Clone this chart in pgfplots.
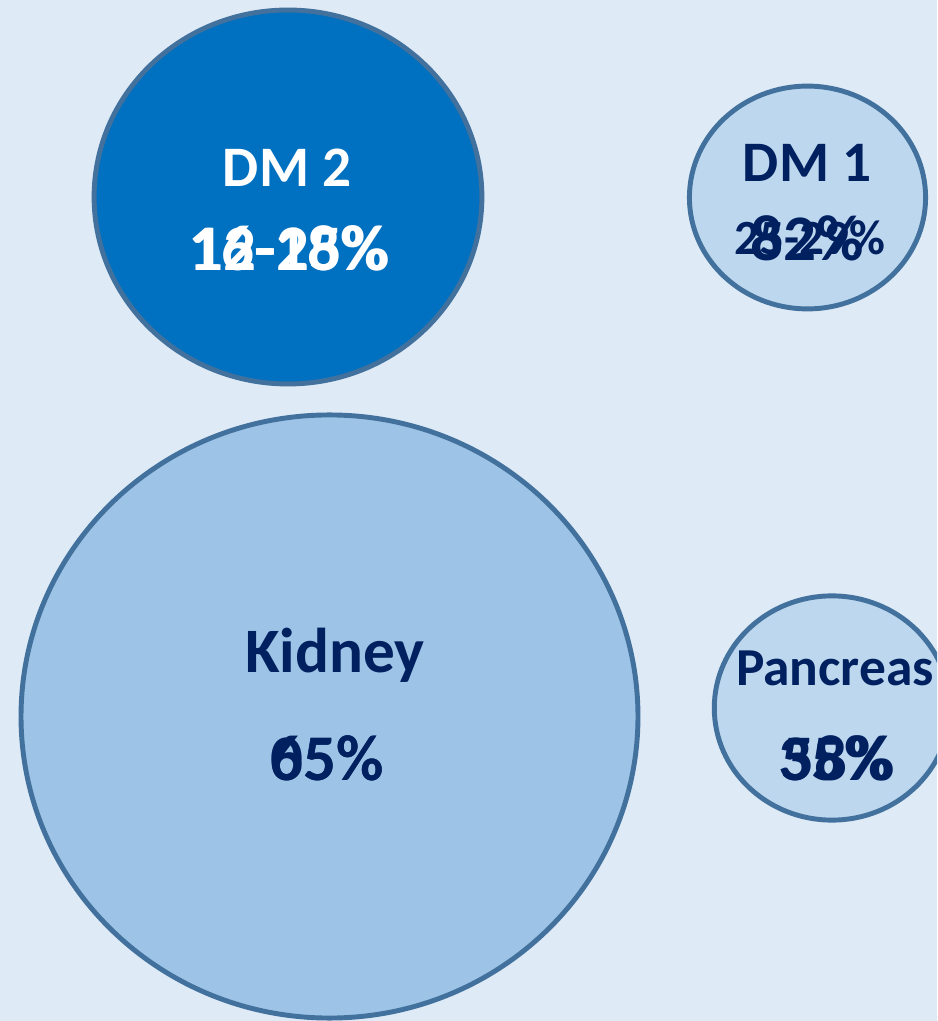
\documentclass[border=0pt]{standalone}
\usepackage{pgfplots}
\pgfplotsset{compat=1.18}
\usepackage{fontspec}
\setmainfont{Carlito}
\definecolor{bgc}{HTML}{DEEAF6}
\definecolor{dmtwo}{HTML}{0070C0}
\definecolor{lightb}{HTML}{BDD7EE}
\definecolor{midb}{HTML}{9DC3E6}
\definecolor{edgec}{HTML}{41719C}
\definecolor{navy}{HTML}{002060}
\begin{document}
\begin{tikzpicture}
\begin{axis}[
  scale only axis, width=9.37cm, height=10.21cm,
  xmin=0, xmax=937, ymin=0, ymax=1021,
  axis line style={draw=none}, ticks=none,
  axis background/.style={fill=bgc},
  clip=true, clip marker paths=true,
]
% DM 2
\addplot[only marks, mark=*, mark size=53.2pt,
  mark options={fill=dmtwo, draw=edgec, line width=1.4pt, xscale=1.037}]
  coordinates {(288,824)};
% DM 1
\addplot[only marks, mark=*, mark size=31.7pt,
  mark options={fill=lightb, draw=edgec, line width=1.4pt, xscale=1.06}]
  coordinates {(807.5,823.5)};
% Kidney
\addplot[only marks, mark=*, mark size=85.8pt,
  mark options={fill=midb, draw=edgec, line width=1.4pt, xscale=1.023}]
  coordinates {(329.5,304.5)};
% Pancreas
\addplot[only marks, mark=*, mark size=31.9pt,
  mark options={fill=lightb, draw=edgec, line width=1.4pt, xscale=1.05}]
  coordinates {(832,313)};

\tikzset{lab/.style={font=\bfseries\fontsize{16.3}{18}\selectfont, inner sep=0pt},
         pct/.style={font=\bfseries\fontsize{18.5}{20}\selectfont, inner sep=0pt},
         pcts/.style={font=\bfseries\fontsize{14}{16}\selectfont, inner sep=0pt}}
% DM 2 text
\node[lab, white] at (axis cs:287,853) {DM 2};
\node[pct, white] at (axis cs:288,773) {16-18\%};
\node[pct, white] at (axis cs:290,773) {12-25\%};
% DM 1 text
\node[lab, navy] at (axis cs:807,858) {DM 1};
\node[pcts, navy] at (axis cs:810,783) {25-29\%};
\node[pct, navy] at (axis cs:807,783) {82\%};
% Kidney text
\node[lab, navy, font=\bfseries\fontsize{18}{20}\selectfont] at (axis cs:335,366) {Kidney};
\node[pct, navy] at (axis cs:327,263) {05\%};
\node[pct, navy] at (axis cs:327,263) {65\%};
% Pancreas text
\node[lab, navy, font=\bfseries\fontsize{15.2}{17}\selectfont] at (axis cs:835,353) {Pancreas};
\node[pct, navy] at (axis cs:835,263) {35\%};
\node[pct, navy] at (axis cs:838,263) {58\%};
\end{axis}
\end{tikzpicture}
\end{document}
